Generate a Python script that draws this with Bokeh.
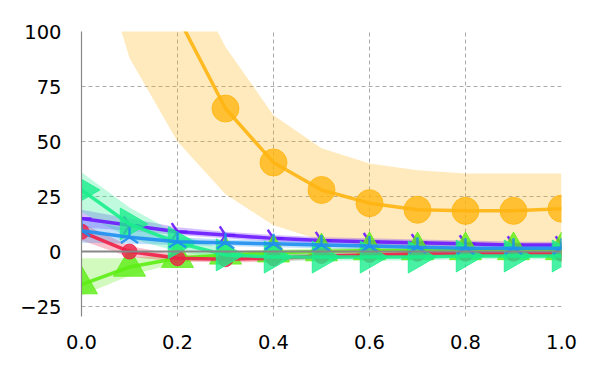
import math
from bokeh.plotting import figure
from bokeh.models import Range1d, FixedTicker, Span
from bokeh.embed import file_html
from bokeh.resources import INLINE

x = [0.0, 0.1, 0.2, 0.3, 0.4, 0.5, 0.6, 0.7, 0.8, 0.9, 1.0]

orange_mean = [260, 165, 107, 65, 40.5, 28, 22, 19, 18.5, 18.5, 19.5]
orange_lo = [160, 88, 50, 26, 12, 5, 3, 2.5, 2.5, 2.5, 2.5]
orange_hi = [330, 205, 135, 93, 62, 47, 40, 37, 35.5, 35.5, 35.5]

red_mean = [9, 0, -3, -3.5, -3, -2, -1.5, -1, -1, -1, -1]
red_lo = [5, -2.5, -4.5, -5, -4.5, -3.5, -3, -2.5, -2.5, -2.5, -2.5]
red_hi = [13, 2.5, -1.5, -2, -1.5, -0.5, 0, 0.5, 0.5, 0.5, 0.5]

green_mean = [-15, -7, -3, -1.5, -0.5, 0, 0.5, 0.5, 0.5, 0.5, 0.5]
green_lo = [-20, -11, -5, -3, -2, -1.5, -1, -1, -1, -1, -1]
green_hi = [-3, -3, -1, 0, 1, 1.5, 2, 2, 2, 2, 2]

spring_mean = [28, 12.5, 4, -1.5, -2.5, -2.5, -2.5, -2.5, -2, -2, -2]
spring_lo = [18, 6, 0, -3.5, -4, -4, -4, -4, -3.5, -3.5, -3.5]
spring_hi = [36, 20, 8, 1, -1, -1, -1, -1, -0.5, -0.5, -0.5]

blue_mean = [9.5, 6.5, 4.5, 4, 3.5, 3, 2.5, 2, 1.5, 1.5, 1.5]
blue_lo = [4, 3.5, 3, 2.5, 2, 1.5, 1, 0.5, 0, 0, 0]
blue_hi = [15, 10, 6.5, 5.5, 5, 4.5, 4, 3.5, 3, 3, 3]

purple_mean = [15, 12, 9, 7.5, 6, 5, 4.5, 4, 3.5, 3, 3]
purple_lo = [11, 9.5, 7.5, 6, 4.5, 3.5, 3, 2.5, 2, 1.5, 1.5]
purple_hi = [19, 15, 11, 9, 7.5, 6.5, 6, 5.5, 5, 4.5, 4.5]

x_ticks = [0.0, 0.2, 0.4, 0.6, 0.8, 1.0]
y_ticks = [-25, 0, 25, 50, 75, 100]

p = figure(width=584, height=359, output_backend="svg", toolbar_location=None,
           x_range=Range1d(0, 1), y_range=Range1d(-29.5, 100),
           min_border_left=81, min_border_right=23, min_border_top=31, min_border_bottom=43)
p.outline_line_color = None
p.background_fill_color = "white"

for ax in (p.xaxis[0], p.yaxis[0]):
    ax.major_tick_line_color = None
    ax.minor_tick_line_color = None
    ax.major_label_text_font = "DejaVu Sans"
    ax.major_label_text_font_size = "19.5px"
    ax.major_label_text_color = "black"
p.xaxis.axis_line_color = None
p.yaxis.axis_line_color = "#888888"
p.yaxis.axis_line_width = 1.2
p.xaxis.ticker = FixedTicker(ticks=x_ticks)
p.yaxis.ticker = FixedTicker(ticks=y_ticks)
p.xaxis.major_label_overrides = {t: f"{t:.1f}" for t in x_ticks}
p.yaxis.major_label_overrides = {t: (str(t).replace("-", "\u2212")) for t in y_ticks}
p.xaxis.major_label_standoff = 12
p.yaxis.major_label_standoff = 14

p.grid.grid_line_color = "#aaaaaa"
p.grid.grid_line_dash = "4 3"
p.grid.grid_line_width = 1

p.add_layout(Span(location=0, dimension="width", line_color="#888888", line_width=2))

series = [
    ("orange", orange_mean, orange_lo, orange_hi, "#ffb511", "circle", 27, 0),
    ("purple", purple_mean, purple_lo, purple_hi, "#6a1aff", "y", 20, math.pi / 2),
    ("green", green_mean, green_lo, green_hi, "#5cee14", "triangle", 32, 0),
    ("red", red_mean, red_lo, red_hi, "#ee1f47", "circle", 15, 0),
    ("spring", spring_mean, spring_lo, spring_hi, "#1aee8c", "triangle", 32, -math.pi / 2),
    ("blue", blue_mean, blue_lo, blue_hi, "#1e8ff0", "y", 20, math.pi),
]

for name, m, lo, hi, col, mk, sz, ang in series:
    p.varea(x=x, y1=lo, y2=hi, fill_color=col, fill_alpha=0.28)

for name, m, lo, hi, col, mk, sz, ang in series:
    p.line(x=x, y=m, line_color=col, line_width=3.5, line_alpha=0.9)
    if mk == "y":
        p.scatter(x=x, y=m, marker="y", size=sz, angle=ang, line_color=col,
                  line_width=2.5, line_alpha=0.9)
    else:
        p.scatter(x=x, y=m, marker=mk, size=sz, angle=ang, fill_color=col,
                  fill_alpha=0.8, line_color=col, line_alpha=0.8, line_width=1)

open("out.html", "w").write(file_html(p, INLINE))
